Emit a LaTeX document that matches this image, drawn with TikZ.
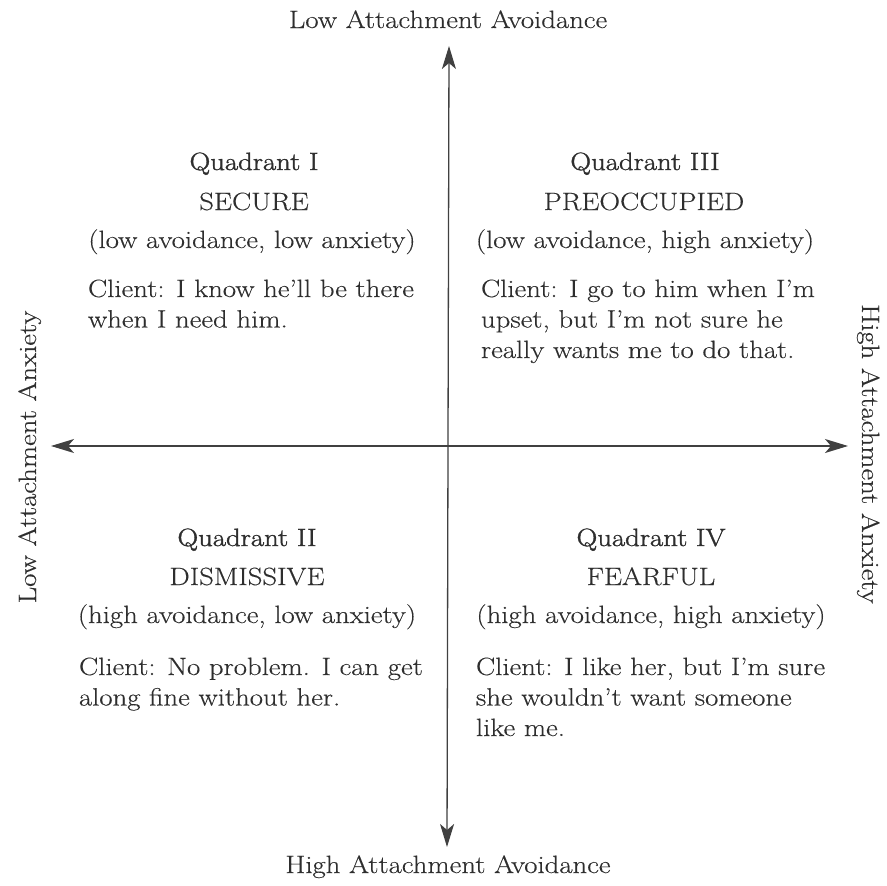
\documentclass[tikz,border=0pt]{standalone}
\usepackage{fontspec}
\setmainfont{Latin Modern Roman}[FakeStretch=1.15,FakeBold=0.3]
\newfontfamily\semibold{Latin Modern Roman}[FakeStretch=1.15,FakeBold=1.4]
\usetikzlibrary{arrows.meta}
\definecolor{ink}{HTML}{2E2E2E}
\definecolor{axis}{HTML}{404040}
\begin{document}
\begin{tikzpicture}[x=1pt,y=-1pt,
  txt/.style={inner sep=0pt,outer sep=0pt,text=ink,font=\fontsize{25}{31.5}\selectfont},
  ctr/.style={txt,anchor=base},
  lft/.style={txt,anchor=base west},
  title/.style={ctr,font=\fontsize{25}{31.5}\semibold},
  axisline/.style={draw=axis,line width=1.3pt,
    {Stealth[length=23pt,width=14pt,inset=6pt]}-{Stealth[length=23pt,width=14pt,inset=6pt]}}]
\useasboundingbox (0,0) rectangle (887,886);
\fill[white] (0,0) rectangle (887,886);
% axes
\coordinate (top) at (449,46);
\coordinate (bot) at (447,847);
\coordinate (lefttip) at (51,446);
\coordinate (righttip) at (848,446);
\draw[axisline] (top) -- (bot);
\draw[axisline] (lefttip) -- (righttip);
% axis labels
\node[ctr] (lt) at (448,28) {Low Attachment Avoidance};
\node[ctr] (lb) at (448,873) {High Attachment Avoidance};
\node[ctr,rotate=90] (ll) at (36,457) {Low Attachment Anxiety};
\node[ctr,rotate=-90] (lr) at (862,454) {High Attachment Anxiety};
% Quadrant I
\node[title] (q1a) at (254,170) {Quadrant I};
\node[ctr] (q1b) at (254,210) {SECURE};
\node[ctr] (q1c) at (252,248) {(low avoidance, low anxiety)};
\node[lft] (q1d) at (88,297) {Client: I know he’ll be there};
\node[lft] (q1e) at (88,327.5) {when I need him.};
% Quadrant III
\node[title] (q3a) at (645,170) {Quadrant III};
\node[ctr] (q3b) at (644,210) {PREOCCUPIED};
\node[ctr] (q3c) at (645,248) {(low avoidance, high anxiety)};
\node[lft] (q3d) at (481,297) {Client: I go to him when I’m};
\node[lft] (q3e) at (481,327.5) {upset, but I’m not sure he};
\node[lft] (q3f) at (481,358) {really wants me to do that.};
% Quadrant II
\node[title] (q2a) at (247,546) {Quadrant II};
\node[ctr] (q2b) at (247,585) {DISMISSIVE};
\node[ctr] (q2c) at (247,623) {(high avoidance, low anxiety)};
\node[lft] (q2d) at (79,675) {Client: No problem. I can get};
\node[lft] (q2e) at (79,705.5) {along fine without her.};
% Quadrant IV
\node[title] (q4a) at (651,546) {Quadrant IV};
\node[ctr] (q4b) at (651,585) {FEARFUL};
\node[ctr] (q4c) at (651,623) {(high avoidance, high anxiety)};
\node[lft] (q4d) at (476,675) {Client: I like her, but I’m sure};
\node[lft] (q4e) at (476,705.5) {she wouldn’t want someone};
\node[lft] (q4f) at (476,736) {like me.};
\end{tikzpicture}
\end{document}
